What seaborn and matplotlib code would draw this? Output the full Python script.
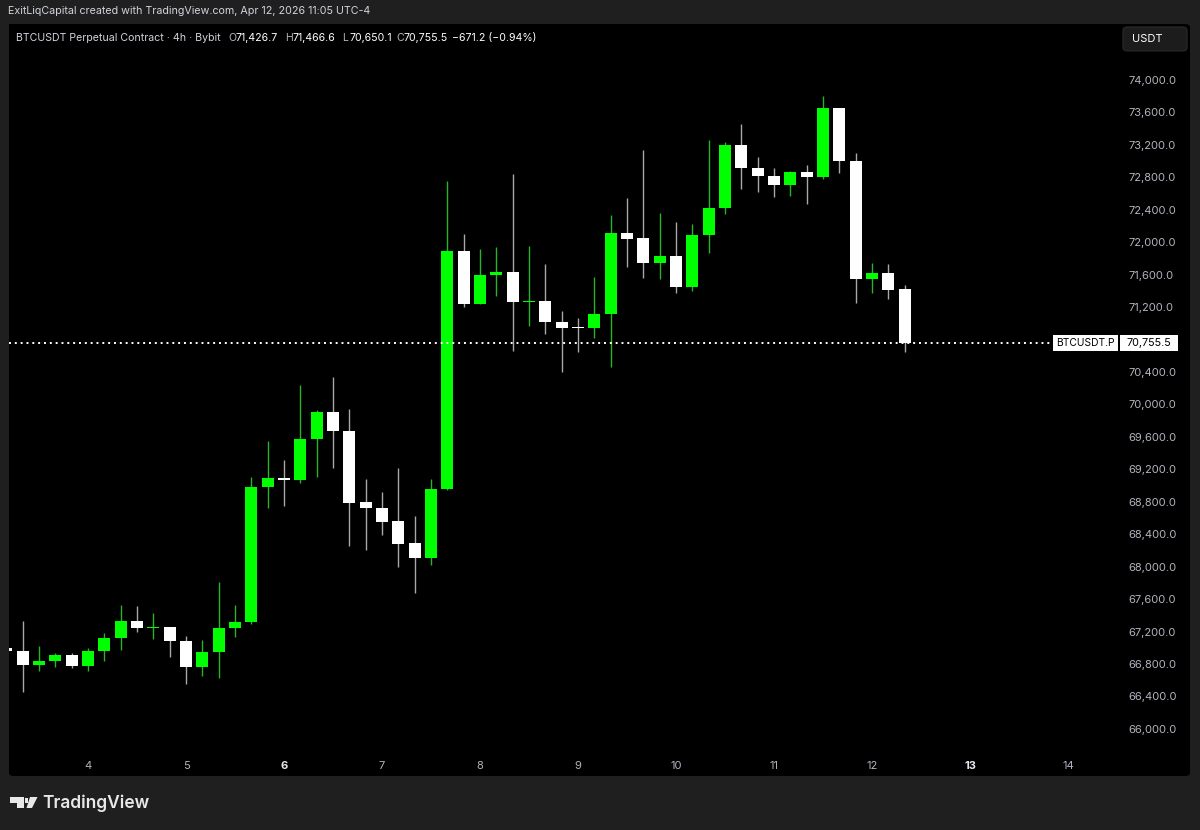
import numpy as np
import pandas as pd
import matplotlib.pyplot as plt
import seaborn as sns
from matplotlib.patches import FancyBboxPatch, Rectangle, Polygon
from matplotlib.transforms import blended_transform_factory

# 4h candles, BTCUSDT.P (Bybit), first one starts Apr 3 04:00
opens = [67000, 66960, 66787, 66836, 66910, 66775, 66960, 67120, 67330, 67243,
         67250, 67083, 66762, 66947, 67243, 67317, 68982, 69093, 69068, 69573,
         69906, 69672, 68797, 68723, 68562, 68291, 68106, 68957, 71892, 71238,
         71596, 71633, 71263, 71275, 71016, 70955, 70942, 71115, 72114, 72052,
         71744, 71830, 71448, 72089, 72422, 73199, 72915, 72816, 72705, 72866,
         72804, 73655, 73001, 71546, 71620, 71426.7]
highs = [67010, 67330, 67021, 66935, 66935, 66997, 67181, 67527, 67515, 67428,
         67255, 67145, 67095, 67810, 67527, 69105, 69549, 69315, 70240, 69931,
         70338, 69944, 69080, 68920, 69216, 68624, 69080, 72755, 72101, 71916,
         71941, 72841, 71953, 71731, 71152, 71065, 71571, 72335, 72545, 73137,
         72360, 72249, 72224, 73260, 73236, 73457, 73050, 72915, 72878, 72952,
         73803, 73655, 73100, 71744, 71731, 71466.6]
lows = [66950, 66454, 66713, 66762, 66750, 66713, 66836, 66972, 67194, 67108,
        66885, 66553, 66651, 66627, 67132, 67292, 68723, 68747, 69031, 69105,
        69216, 68254, 68205, 68390, 67995, 67675, 68020, 68940, 71201, 71238,
        71337, 70659, 70967, 70868, 70400, 70646, 70819, 70461, 71694, 71559,
        71546, 71374, 71398, 71867, 72348, 72656, 72619, 72557, 72570, 72471,
        72780, 72853, 71250, 71374, 71300, 70650.1]
closes = [66960, 66787, 66836, 66910, 66775, 66960, 67120, 67330, 67243, 67255,
          67083, 66762, 66947, 67243, 67317, 68982, 69093, 69068, 69573, 69906,
          69672, 68784, 68723, 68550, 68279, 68106, 68957, 71892, 71238, 71596,
          71633, 71263, 71275, 71016, 70942, 70942, 71115, 72114, 72040, 71744,
          71830, 71448, 72089, 72422, 73199, 72915, 72816, 72705, 72866, 72804,
          73655, 73001, 71546, 71620, 71411, 70755.5]

day_ticks = list(range(4, 15))
bold_days = [6, 13]
price_ticks = list(range(66000, 74001, 400))

df = pd.DataFrame({"time": pd.date_range("2026-04-03 04:00", periods=len(opens), freq="4h"),
                   "open": opens, "high": highs, "low": lows, "close": closes})
df["x"] = df["time"].dt.day + df["time"].dt.hour / 24
df["up"] = df["close"] >= df["open"]
last = df.iloc[-1]

# =====================================
# STYLE / FIGURE
# =====================================
sns.set_theme(style="dark", rc={"axes.facecolor": "black", "figure.facecolor": "#1f1f1f"})
plt.rcParams['font.family'] = ['Inter', 'DejaVu Sans']

W, H = 1200, 830
fig = plt.figure(figsize=(12, 8.3), dpi=100)


def fx(px):
    return px / W


def fy(py):
    return 1 - py / H


panel = FancyBboxPatch((fx(9), fy(776)), fx(1190) - fx(9), fy(24) - fy(776),
                       boxstyle="round,pad=0,rounding_size=0.004", transform=fig.transFigure,
                       facecolor="black", edgecolor="none", zorder=-1)
fig.add_artist(panel)

ax = fig.add_axes([fx(9), fy(750), fx(1119) - fx(9), fy(24) - fy(750)])
ax.set_facecolor("black")

green, white = "#00ff00", "#ffffff"
body_cols = np.where(df["up"], green, white)
wick_cols = np.where(df["up"], "#26b526", "#a8a8a8")

# =====================================
# CANDLES
# =====================================
ax.vlines(df["x"], df["low"], df["high"], colors=wick_cols, linewidth=1, zorder=2)
body_bottom = np.minimum(df["open"], df["close"])
body_h = np.maximum((df["close"] - df["open"]).abs(), 13)
ax.bar(df["x"], body_h, bottom=body_bottom, width=0.1224, color=body_cols,
       linewidth=0, zorder=3)

x0, x1 = 3.194, 14.52
ax.set_xlim(x0, x1)
ax.set_ylim(65739, 74690)

# last price line + labels
ax.hlines(last["close"], x0, 13.837, colors="white", linestyles=(0, (1, 2)),
          linewidth=1.4, zorder=4)
tr = blended_transform_factory(ax.transAxes, ax.transData)
bh = 197
ax.add_patch(Rectangle((0.9405, last["close"] - bh / 2), 0.0586, bh, transform=tr,
                       facecolor="white", edgecolor="none", clip_on=False, zorder=5))
ax.add_patch(Rectangle((1.0009, last["close"] - bh / 2), 0.0523, bh, transform=tr,
                       facecolor="white", edgecolor="none", clip_on=False, zorder=5))
ax.text(0.9698, last["close"], "BTCUSDT.P", transform=tr, ha="center", va="center",
        fontsize=7.4, color="black", clip_on=False, zorder=6)
ax.text(1.0270, last["close"], f"{last['close']:,.1f}", transform=tr, ha="center",
        va="center", fontsize=7.8, color="black", clip_on=False, zorder=6)

# =====================================
# AXES
# =====================================
ax.yaxis.tick_right()
# the price label hides the scale tick that sits under it
shown_ticks = [v for v in price_ticks if abs(v - last["close"]) > 200]
ax.set_yticks(shown_ticks)
ax.set_yticklabels([f"{v:,.1f}" for v in shown_ticks])
ax.tick_params(axis="y", length=0, pad=6.5, labelsize=8, labelcolor="#b2b5be")
ax.set_xticks(day_ticks)
ax.set_xticklabels([str(d) for d in day_ticks])
ax.tick_params(axis="x", length=0, pad=8, labelsize=8, labelcolor="#b2b5be")
for lab, d in zip(ax.get_xticklabels(), day_ticks):
    if d in bold_days:
        lab.set_color("#e6e8ee")
        lab.set_fontweight("bold")
ax.grid(False)
for s in ax.spines.values():
    s.set_visible(False)

# =====================================
# HEADER TEXT
# =====================================
fig.text(fx(8), fy(11), "ExitLiqCapital created with TradingView.com, Apr 12, 2026 11:05 UTC-4",
         va="center", fontsize=7.7, color="#d1d4dc")
fig.text(fx(16), fy(38), "BTCUSDT Perpetual Contract · 4h · Bybit", va="center",
         fontsize=7.6, color="#d1d4dc")
chg = last["close"] - last["open"]
pct = chg / last["open"] * 100
ohlc = [("O", last["open"], 228), ("H", last["high"], 285),
        ("L", last["low"], 342), ("C", last["close"], 396)]
for letter, val, px in ohlc:
    fig.text(fx(px), fy(38), letter, va="center", fontsize=7.6, color="#b2b5be")
    fig.text(fx(px + 7), fy(38), f"{val:,.1f}", va="center", fontsize=7.6, color="white")
fig.text(fx(452), fy(38), f"{chg:,.1f} ({pct:.2f}%)".replace("-", "\u2212"),
         va="center", fontsize=7.6, color="white")

# USDT button
fig.add_artist(FancyBboxPatch((fx(1123), fy(51)), fx(1187) - fx(1123), fy(27) - fy(51),
                              boxstyle="round,pad=0,rounding_size=0.004",
                              transform=fig.transFigure, facecolor="#1c1c1c",
                              edgecolor="#2a2a2a", linewidth=0.8))
fig.text(fx(1132), fy(39), "USDT", va="center", fontsize=8, color="white")

# =====================================
# TRADINGVIEW LOGO
# =====================================
logo_col = "#e8e8e8"
fig.add_artist(Polygon([(fx(10), fy(797)), (fx(24), fy(797)), (fx(24), fy(808)),
                        (fx(17), fy(808)), (fx(17), fy(803)), (fx(10), fy(803))],
                       closed=True, transform=fig.transFigure, facecolor=logo_col,
                       edgecolor="none"))
fig.add_artist(Polygon([(fx(24.6), fy(798)), (fx(28.4), fy(798)), (fx(28.4), fy(802.5)),
                        (fx(24.6), fy(802.5))], closed=True, transform=fig.transFigure,
                       facecolor=logo_col, edgecolor="none"))
fig.add_artist(Polygon([(fx(30), fy(797)), (fx(37.5), fy(797)), (fx(32), fy(808)),
                        (fx(26.5), fy(808))], closed=True, transform=fig.transFigure,
                       facecolor=logo_col, edgecolor="none"))
fig.text(fx(42), fy(803), "TradingView", va="center", fontsize=12.5,
         fontweight="semibold", color=logo_col)

fig.savefig("out.png", dpi=100, facecolor=fig.get_facecolor())
